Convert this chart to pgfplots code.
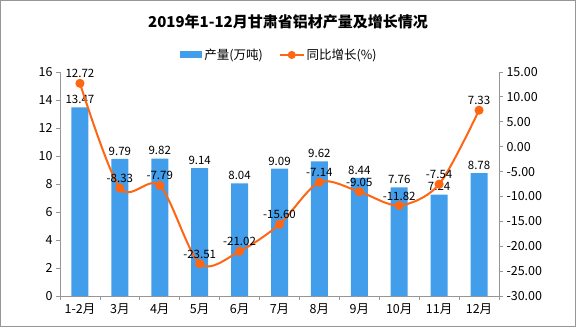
\documentclass[border=0pt]{standalone}
\usepackage{fontspec}
\setmainfont{Noto Sans CJK SC}
\usepackage{pgfplots}
\pgfplotsset{compat=1.18}
\definecolor{barblue}{RGB}{66,157,235}
\definecolor{lineorange}{RGB}{255,102,20}
\definecolor{axgray}{RGB}{150,150,150}
\begin{document}
\begin{tikzpicture}[x=1pt,y=1pt]
\draw[axgray, line width=1pt] (0.5,0.5) rectangle (575.5,326.5);
\node[font=\fontsize{15}{17}\selectfont\bfseries] at (288,305) {2019年1-12月甘肃省铝材产量及增长情况};
\begin{axis}[
  at={(60pt,31pt)}, anchor=south west,
  scale only axis, width=439pt, height=224pt,
  xmin=-0.5, xmax=10.5, ymin=0, ymax=16,
  ytick={0,2,...,16},
  xtick={0,...,10},
  xticklabels={1-2月,3月,4月,5月,6月,7月,8月,9月,10月,11月,12月},
  major x tick style={draw=none},
  minor xtick={-0.5,0.5,...,10.5},
  minor tick length=4pt,
  major tick length=4pt,
  tick align=outside,
  axis y line*=left, axis x line*=bottom,
  axis line style={axgray, line width=0.8pt},
  every tick/.style={axgray, line width=0.8pt},
  tick label style={font=\fontsize{12.5}{14}\selectfont, black},
  /pgf/number format/assume math mode=true,
  ybar, bar width=17pt,
  nodes near coords,
  every node near coord/.append style={font=\fontsize{11.5}{13}\selectfont, black, /pgf/number format/fixed, /pgf/number format/fixed zerofill, /pgf/number format/precision=2},
  legend style={draw=none, fill=none, at={(0.5,1.076)}, anchor=center, legend columns=-1, font=\fontsize{12.5}{14}\selectfont, /tikz/every even column/.append style={column sep=14pt}},
  legend image code/.code={\fill[barblue] (0pt,-3.5pt) rectangle (22pt,3.5pt);},
  clip=false,
]
\addplot[fill=barblue, draw=none] coordinates {
(0,13.47) (1,9.79) (2,9.82) (3,9.14) (4,8.04) (5,9.09) (6,9.62) (7,8.44) (8,7.76) (9,7.24) (10,8.78)};
\addlegendentry{产量(万吨)}
\addlegendimage{lineorange, line width=2pt, mark=*, mark size=3pt, legend image code/.code={\draw[lineorange, line width=2pt] (0pt,0pt) -- (24pt,0pt); \fill[lineorange] (12pt,0pt) circle (3pt);}}
\addlegendentry{同比增长(\%)}
\end{axis}
\begin{axis}[
  at={(60pt,31pt)}, anchor=south west,
  scale only axis, width=439pt, height=224pt,
  xmin=-0.5, xmax=10.5, ymin=-30, ymax=15,
  ytick={-30,-25,...,15},
  axis y line*=right, axis x line=none,
  axis line style={axgray, line width=0.8pt},
  every tick/.style={axgray, line width=0.8pt},
  major tick length=4pt, tick align=outside,
  yticklabel style={font=\fontsize{12.5}{14}\selectfont, black, /pgf/number format/fixed, /pgf/number format/fixed zerofill, /pgf/number format/precision=2},
  /pgf/number format/assume math mode=true,
  clip=false,
]
\addplot[lineorange, line width=2pt, smooth, mark=*, mark size=3.5pt,
  nodes near coords,
  every node near coord/.append style={font=\fontsize{11.5}{13}\selectfont, black, anchor=south, yshift=1pt, /pgf/number format/fixed, /pgf/number format/fixed zerofill, /pgf/number format/precision=2}]
coordinates {
(0,12.72) (1,-8.33) (2,-7.79) (3,-23.51) (4,-21.02) (5,-15.60) (6,-7.14) (7,-9.05) (8,-11.82) (9,-7.54) (10,7.33)};
\end{axis}
\end{tikzpicture}
\end{document}
